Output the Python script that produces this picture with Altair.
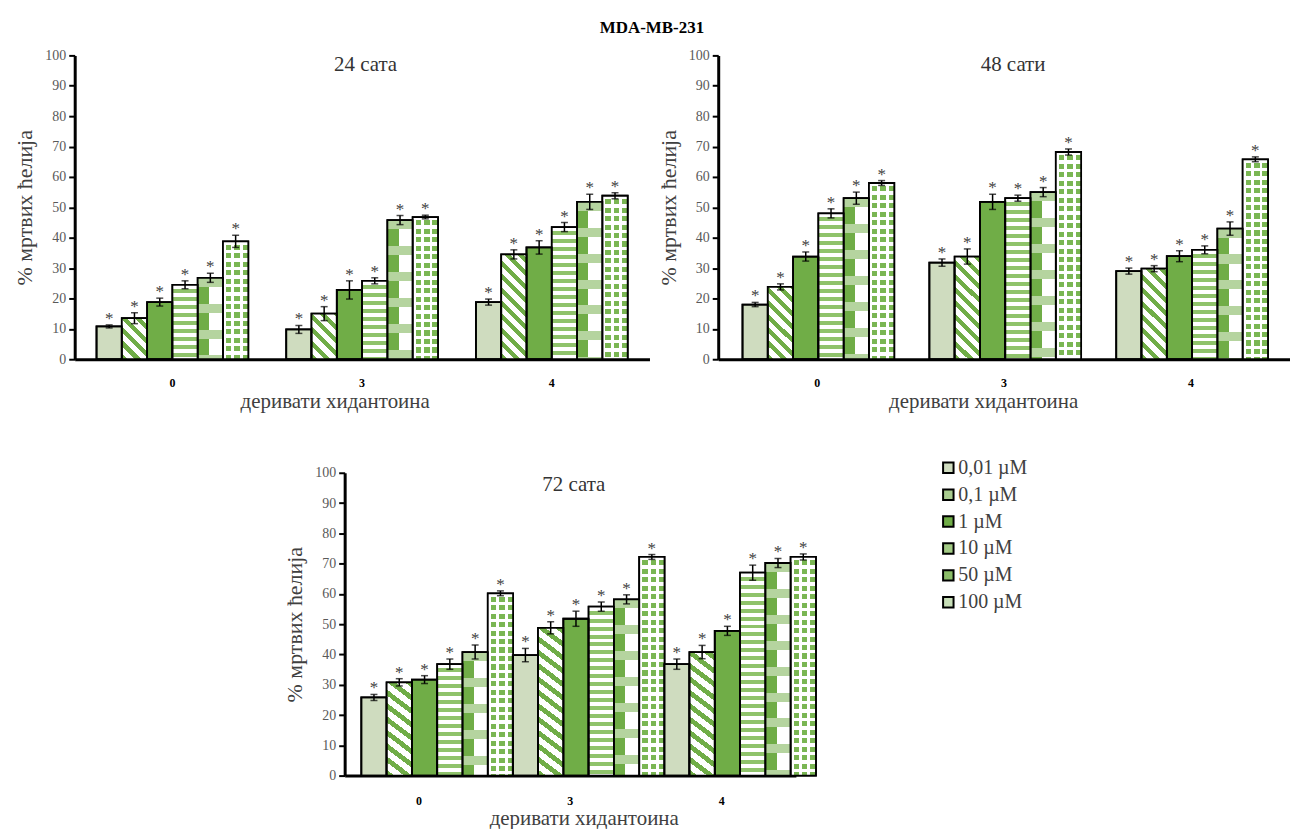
import altair as alt
import pandas as pd

SERIF = "Liberation Serif, Tinos, Times New Roman, DejaVu Serif, serif"
GREEN = "#70ad47"

groups = ["0", "3", "4"]
concs = ["0,01 µM", "0,1 µM", "1 µM", "10 µM", "50 µM", "100 µM"]
fills = ["#cfdcbf", "#a9cc8f", "#70ad47", "#a3cb85", "#8bbd68", "#c8dfb8"]

# 24 h  (rows = derivative 0, 3, 4 ; columns = concentration)
m24 = [[10.8, 13.5, 18.8, 24.5, 26.8, 38.8],
       [9.8, 15.0, 22.8, 25.8, 45.8, 46.8],
       [18.8, 34.5, 36.8, 43.5, 51.8, 53.8]]
e24 = [[0.5, 1.8, 1.3, 1.3, 1.5, 2.0],
       [1.3, 2.3, 3.0, 1.0, 1.5, 0.6],
       [1.0, 1.5, 2.2, 1.5, 2.5, 1.0]]
# 48 h
m48 = [[18.0, 23.8, 33.8, 48.0, 53.0, 58.0],
       [31.8, 33.8, 51.8, 53.0, 55.0, 68.2],
       [29.0, 29.8, 33.9, 36.0, 43.0, 65.8]]
e48 = [[0.7, 1.0, 1.5, 1.5, 2.0, 0.8],
       [1.2, 2.5, 2.5, 1.0, 1.5, 1.0],
       [1.0, 1.0, 1.8, 1.3, 2.2, 0.8]]
# 72 h
m72 = [[25.8, 30.8, 31.7, 36.8, 40.8, 60.2],
       [39.8, 48.8, 51.8, 55.8, 58.2, 72.2],
       [36.8, 40.8, 47.8, 67.0, 70.2, 72.2]]
e72 = [[1.0, 1.2, 1.3, 1.7, 2.3, 0.8],
       [2.2, 2.0, 2.5, 1.5, 1.5, 0.8],
       [1.7, 2.2, 1.5, 2.5, 1.5, 1.0]]

Y_TITLE = "% мртвих ћелија"
X_TITLE = "деривати хидантоина"


def make_df(means, errs):
    rows = []
    for gi, g in enumerate(groups):
        for ci, c in enumerate(concs):
            m = means[gi][ci]
            e = errs[gi][ci]
            rows.append({"group": g, "conc": c, "mean": m, "lo": m - e,
                         "hi": m + e, "key": f"{gi}-{ci}"})
    return pd.DataFrame(rows)


def stripe_stops(period, frac, c_on, c_off):
    stops = []
    t = 0.0
    while t < 1.0:
        a, b, c = t, t + frac * period, t + period
        for o, col in ((a, c_on), (b, c_on), (b, c_off), (c, c_off)):
            stops.append({"offset": min(max(o, 0.0), 1.0), "color": col})
        t += period
    return stops


def diag_grad(w, h, period, frac, c_on, c_off):
    k = (w + h) / (w * w + h * h)
    p = period * 2 ** 0.5 / (w + h)
    return {"gradient": "linear", "x1": 0, "y1": 1, "x2": k * w, "y2": 1 - k * h,
            "stops": stripe_stops(p, frac, c_on, c_off)}


def vert_grad(h, period, frac, c_on, c_off):
    return {"gradient": "linear", "x1": 0, "y1": 0, "x2": 0, "y2": 1,
            "stops": stripe_stops(period / h, frac, c_on, c_off)}


def horiz_grad(w, period, frac, c_on, c_off):
    return {"gradient": "linear", "x1": 0, "y1": 0, "x2": 1, "y2": 0,
            "stops": stripe_stops(period / w, frac, c_on, c_off)}


split_grad = {"gradient": "linear", "x1": 0, "y1": 0, "x2": 1, "y2": 0,
              "stops": [{"offset": 0, "color": GREEN}, {"offset": 0.45, "color": GREEN},
                        {"offset": 0.45, "color": "#ffffff"}, {"offset": 1, "color": "#ffffff"}]}
CLEAR = "rgba(255,255,255,0)"


def panel(means, errs, W, H, pi, po, title, tpx, tpy, tx, txy, lab_pad, legend):
    df = make_df(means, errs)
    step = W / (3 - pi + 2 * po)
    barw = step * (1 - pi) / 6
    xaxis = alt.Axis(title=X_TITLE, labelAngle=0, ticks=False, tickSize=0,
                     domainColor="black", domainWidth=3,
                     labelFont=SERIF, labelFontWeight="bold", labelFontSize=12,
                     labelColor="black", labelPadding=lab_pad,
                     titleFont=SERIF, titleFontSize=21, titleFontWeight="normal",
                     titleColor="#404040", titleX=tx, titleY=txy,
                     titleAlign="center", titleBaseline="middle")
    yaxis = alt.Axis(title=Y_TITLE, values=list(range(0, 101, 10)), grid=False,
                     domainColor="black", domainWidth=3, tickColor="black",
                     tickWidth=2, tickSize=6, labelFont=SERIF, labelFontSize=14,
                     labelColor="#595959", labelPadding=3, titleFont=SERIF,
                     titleFontSize=22, titleFontWeight="normal", titleColor="#404040",
                     titlePadding=8)
    x = alt.X("group:N", sort=groups,
              scale=alt.Scale(domain=groups, paddingInner=pi, paddingOuter=po), axis=xaxis)
    xo = alt.XOffset("conc:N", sort=concs,
                     scale=alt.Scale(domain=concs, paddingInner=0, paddingOuter=0))
    ysc = alt.Scale(domain=[0, 100])
    y = alt.Y("mean:Q", scale=ysc, axis=yaxis)
    base = alt.Chart(df)

    if legend:
        leg = alt.Legend(title=None, orient="none", legendX=596, legendY=-15,
                         symbolType="square", symbolSize=110, symbolStrokeColor="black",
                         symbolStrokeWidth=2, labelFont=SERIF, labelFontSize=20,
                         labelColor="#404040", rowPadding=7, labelOffset=0, padding=0)
    else:
        leg = None
    color = alt.Color("conc:N", sort=concs, scale=alt.Scale(domain=concs, range=fills),
                      legend=leg)

    def one_of(ci):
        return alt.FieldOneOfPredicate(field="key", oneOf=[f"{gi}-{ci}" for gi in range(3)])

    layers = [base.mark_bar(stroke="black", strokeWidth=1.8).encode(x=x, xOffset=xo, y=y, color=color)]

    for gi in range(3):
        # 0,1 µM : diagonal stripes
        h = means[gi][1] * H / 100
        layers.append(base.transform_filter(alt.datum.key == f"{gi}-1")
                      .mark_bar(fill=diag_grad(barw, h, 9.5, 0.45, GREEN, "#ffffff"))
                      .encode(x=x, xOffset=xo, y=y))
        # 10 µM : horizontal stripes
        h = means[gi][3] * H / 100
        layers.append(base.transform_filter(alt.datum.key == f"{gi}-3")
                      .mark_bar(fill=vert_grad(h, 8.0, 0.5, "#ffffff", "#8fc36b"))
                      .encode(x=x, xOffset=xo, y=y))
    # 50 µM : half green / half white with checker bands
    layers.append(base.transform_filter(one_of(4))
                  .mark_bar(fill=split_grad).encode(x=x, xOffset=xo, y=y))
    for gi in range(3):
        h = means[gi][4] * H / 100
        layers.append(base.transform_filter(alt.datum.key == f"{gi}-4")
                      .mark_bar(fill=vert_grad(h, 26.0, 0.35, "#b5d49f", CLEAR))
                      .encode(x=x, xOffset=xo, y=y))
    # 100 µM : green squares on white (columns masked by white rows)
    layers.append(base.transform_filter(one_of(5))
                  .mark_bar(fill=horiz_grad(barw, barw / 3, 0.35, "#ffffff", "#7ab653"))
                  .encode(x=x, xOffset=xo, y=y))
    for gi in range(3):
        h = means[gi][5] * H / 100
        layers.append(base.transform_filter(alt.datum.key == f"{gi}-5")
                      .mark_bar(fill=vert_grad(h, 8.5, 0.4, "#ffffff", CLEAR))
                      .encode(x=x, xOffset=xo, y=y))
    # outlines
    layers.append(base.mark_bar(fillOpacity=0, stroke="black", strokeWidth=1.8)
                  .encode(x=x, xOffset=xo, y=y))
    # error bars
    layers.append(base.mark_rule(color="black", strokeWidth=1.5)
                  .encode(x=x, xOffset=xo, y=alt.Y("lo:Q", scale=ysc, axis=yaxis), y2="hi:Q"))
    layers.append(base.mark_tick(orient="horizontal", color="black", size=7, thickness=1.5)
                  .encode(x=x, xOffset=xo, y=alt.Y("hi:Q", scale=ysc, axis=yaxis)))
    layers.append(base.mark_tick(orient="horizontal", color="black", size=7, thickness=1.5)
                  .encode(x=x, xOffset=xo, y=alt.Y("lo:Q", scale=ysc, axis=yaxis)))
    # significance asterisks
    layers.append(base.mark_text(text="*", font=SERIF, fontSize=17, color="#404040",
                                 baseline="alphabetic", dy=-1)
                  .encode(x=x, xOffset=xo, y=alt.Y("hi:Q", scale=ysc, axis=yaxis)))
    # panel heading (time point)
    layers.append(alt.Chart(pd.DataFrame({"t": [title]}))
                  .mark_text(font=SERIF, fontSize=21, color="#333333", align="center",
                             baseline="middle")
                  .encode(text="t:N", x=alt.value(tpx), y=alt.value(tpy)))

    return alt.layer(*layers).properties(width=W, height=H)


p1 = panel(m24, e24, 577, 305, 0.2, 0.115, "24 сата", 292, 10, 261, 42, 18, False)
p2 = panel(m48, e48, 574, 305, 0.2, 0.13, "48 сати", 296, 10, 266, 42, 18, False)
p3 = panel(m72, e72, 453, 304, 0.24, 0.11, "72 сата", 230, 12, 240, 43, 20, True)

spacer = alt.Chart(pd.DataFrame({"s": [0]})).mark_point(opacity=0).properties(width=210, height=10)

top = alt.hconcat(p1, p2, spacing=8).resolve_scale(color="independent")
bottom = alt.hconcat(spacer, p3, spacing=0).resolve_scale(color="independent")

chart = alt.vconcat(top, bottom, spacing=47).properties(
    title=alt.TitleParams("MDA-MB-231", font=SERIF, fontSize=17, fontWeight="bold",
                          color="black", anchor="middle", offset=11),
    padding={"left": 14, "top": 18, "right": 0, "bottom": 0},
).resolve_scale(color="independent").configure_view(stroke=None)

chart.save("out.html", embed_options={"renderer": "svg", "actions": False})
